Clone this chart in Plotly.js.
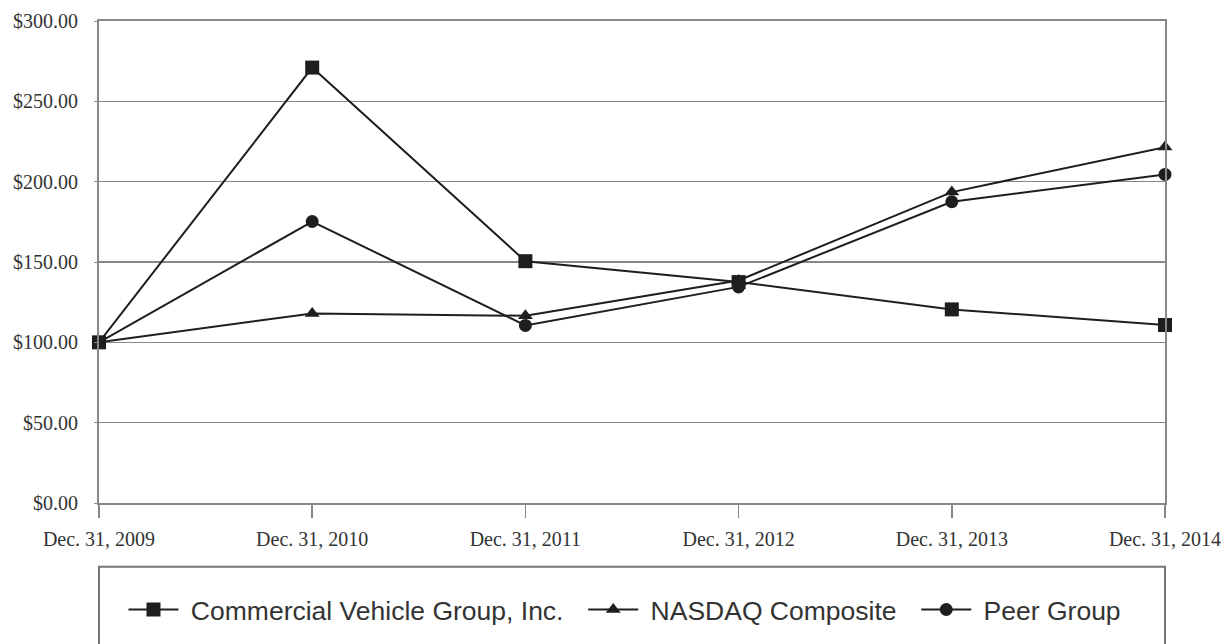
<!DOCTYPE html>
<html>
<head>
<meta charset="utf-8">
<script src="https://cdn.plot.ly/plotly-3.0.1.min.js"></script>
<style>html,body{margin:0;padding:0;background:#fff;}#chart{width:1228px;height:644px;}</style>
</head>
<body>
<div id="chart"></div>
<script>
const categories = ["Dec. 31, 2009", "Dec. 31, 2010", "Dec. 31, 2011", "Dec. 31, 2012", "Dec. 31, 2013", "Dec. 31, 2014"];
const cvgValues = [100.00, 271.00, 150.50, 137.50, 120.50, 110.80];
const nasdaqValues = [100.00, 118.00, 116.50, 138.50, 193.50, 221.50];
const peerValues = [100.00, 175.20, 110.50, 134.50, 187.50, 204.50];
const yTicks = [0, 50, 100, 150, 200, 250, 300];
const yTickLabels = yTicks.map(v => '$' + v.toFixed(2));

const lineColor = '#1e1e1e';
const pad = '\u00a0';
function series(name, values, symbol, size) {
  return {
    type: 'scatter', mode: 'lines+markers', name: pad + name + pad + pad,
    x: categories, y: values, cliponaxis: false,
    line: {color: lineColor, width: 2},
    marker: {symbol: symbol, size: size, color: lineColor}
  };
}
const data = [
  series('Commercial Vehicle Group, Inc.', cvgValues, 'square', 14),
  series('NASDAQ Composite', nasdaqValues, 'triangle-up', 13),
  series('Peer Group', peerValues, 'circle', 13)
];

const serif = 'Liberation Serif, Times New Roman, serif';
const layout = {
  width: 1228, height: 644,
  margin: {l: 99, r: 63, t: 21, b: 140},
  paper_bgcolor: '#fff', plot_bgcolor: '#fff',
  showlegend: true,
  legend: {
    orientation: 'h', x: 0.5, xanchor: 'center', y: -0.219, yanchor: 'middle',
    font: {family: 'Liberation Sans, Arial, sans-serif', size: 26.5, color: '#333'},
    bgcolor: 'rgba(0,0,0,0)', borderwidth: 0, itemwidth: 50
  },
  xaxis: {
    type: 'category', range: [0, 5], showgrid: false,
    showline: true, linecolor: '#888', linewidth: 2, mirror: true,
    ticks: 'outside', ticklen: 13, tickcolor: '#888', tickwidth: 1.5,
    ticklabelstandoff: 4,
    tickfont: {family: serif, size: 20, color: '#333'},
    zeroline: false, fixedrange: true
  },
  yaxis: {
    range: [0, 300], tickvals: yTicks, ticktext: yTickLabels,
    showgrid: true, gridcolor: '#888', gridwidth: 1.5,
    showline: true, linecolor: '#888', linewidth: 2, mirror: true,
    ticks: 'outside', ticklen: 3, tickcolor: '#888',
    ticklabelstandoff: 12,
    tickfont: {family: serif, size: 20, color: '#333'},
    zeroline: false, fixedrange: true
  },
  shapes: [{
    type: 'rect', xref: 'paper', yref: 'paper',
    x0: 0, x1: 1, y0: -0.1325, y1: -0.35,
    line: {color: '#777', width: 2}, fillcolor: 'rgba(0,0,0,0)', layer: 'below'
  }]
};

Plotly.newPlot('chart', data, layout, {displayModeBar: false, staticPlot: true});
</script>
</body>
</html>
